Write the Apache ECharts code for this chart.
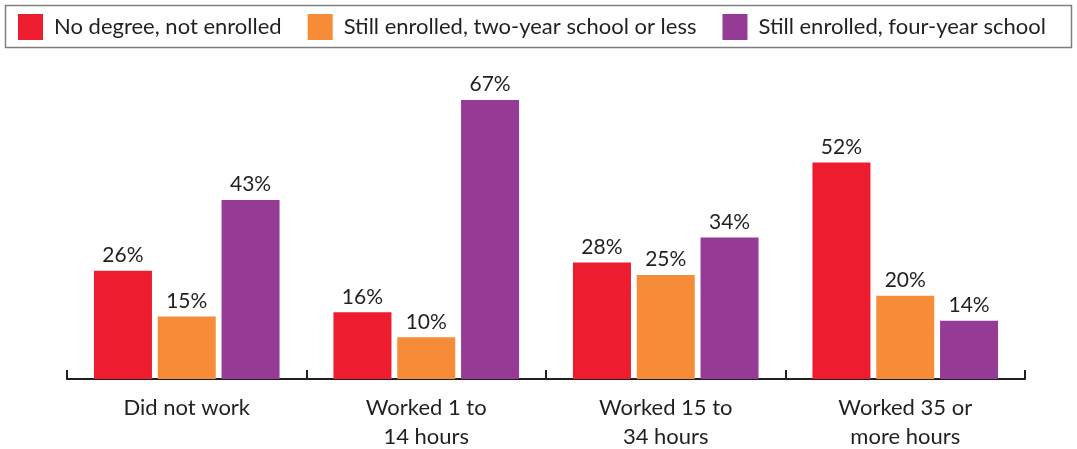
<!DOCTYPE html>
<html>
<head>
<meta charset="utf-8">
<script src="https://cdn.jsdelivr.net/npm/echarts@6/dist/echarts.min.js"></script>
<style>
  html, body { margin: 0; padding: 0; background: #fff; }
  #chart { width: 1077px; height: 449px; }
</style>
</head>
<body>
<div id="chart"></div>
<script>
var categories = ['Did not work', 'Worked 1 to\n14 hours', 'Worked 15 to\n34 hours', 'Worked 35 or\nmore hours'];
var seriesNames = ['No degree, not enrolled', 'Still enrolled, two-year school or less', 'Still enrolled, four-year school'];
var noDegree = [26, 16, 28, 52];
var twoYear = [15, 10, 25, 20];
var fourYear = [43, 67, 34, 14];
var colors = ['#ed1c2e', '#f68b38', '#953b96'];

var textColor = '#231f20';
var fontFamily = 'Lato, "Open Sans", sans-serif';

function makeSeries(name, data, color) {
    return {
        name: name,
        type: 'bar',
        data: data,
        barWidth: 58,
        barGap: '10%',
        itemStyle: { color: color },
        label: {
            show: true,
            position: 'top',
            distance: 5,
            formatter: '{c}%',
            color: textColor,
            fontSize: 21,
            fontFamily: fontFamily
        }
    };
}

var chart = echarts.init(document.getElementById('chart'));
var option = {
    animation: false,
    color: colors,
    graphic: [{
        type: 'rect',
        shape: { x: 5.5, y: 5.5, width: 1066, height: 42 },
        style: { fill: 'none', stroke: '#7f7f7f', lineWidth: 1.5 }
    }],
    legend: {
        left: 18,
        top: 14,
        padding: 0,
        itemWidth: 25,
        itemHeight: 26,
        itemGap: 26,
        icon: 'rect',
        textStyle: {
            color: textColor,
            fontSize: 22,
            fontFamily: fontFamily,
            padding: [0, 0, 0, 6]
        },
        data: seriesNames
    },
    grid: {
        left: 67,
        right: 52,
        top: 100,
        bottom: 70,
        containLabel: false,
        outerBoundsMode: 'none'
    },
    xAxis: {
        type: 'category',
        data: categories,
        axisLine: { lineStyle: { color: textColor, width: 2 } },
        axisTick: { show: true, inside: true, length: 9, lineStyle: { color: textColor, width: 2 } },
        axisLabel: {
            color: textColor,
            fontSize: 22,
            fontFamily: fontFamily,
            lineHeight: 29,
            margin: 14
        }
    },
    yAxis: {
        type: 'value',
        min: 0,
        max: 67,
        show: false,
        splitLine: { show: false }
    },
    series: [
        makeSeries(seriesNames[0], noDegree, colors[0]),
        makeSeries(seriesNames[1], twoYear, colors[1]),
        makeSeries(seriesNames[2], fourYear, colors[2])
    ]
};
chart.setOption(option);
</script>
</body>
</html>
